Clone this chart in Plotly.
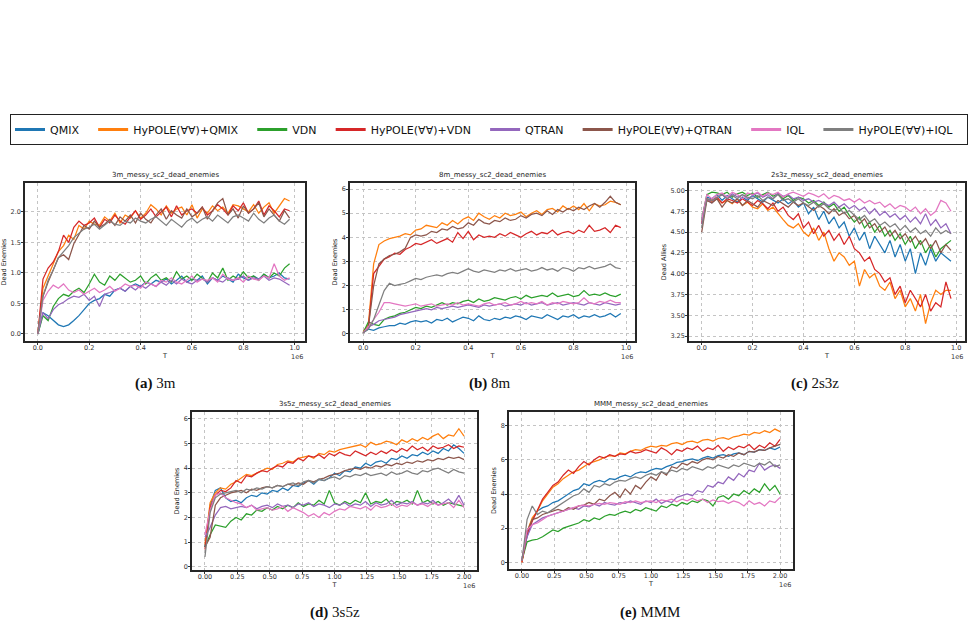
import plotly.graph_objects as go

W, H = 973, 627

NAMES = ["QMIX", "HyPOLE(∀∀)+QMIX", "VDN", "HyPOLE(∀∀)+VDN",
         "QTRAN", "HyPOLE(∀∀)+QTRAN", "IQL", "HyPOLE(∀∀)+IQL"]
COLORS = ["#1f77b4", "#ff7f0e", "#2ca02c", "#d62728",
          "#9467bd", "#8c564b", "#e377c2", "#7f7f7f"]

# training steps (in units of 1e6)
T_1M = [round(0.02 * i, 2) for i in range(50)]
T_2M = [round(0.04 * i, 2) for i in range(51)]

# ---------------- (a) 3m ----------------
m3_qmix = [0, 0.35, 0.30, 0.22, 0.15, 0.12, 0.15, 0.22, 0.30, 0.40, 0.50, 0.55, 0.58, 0.65, 0.62, 0.72, 0.75, 0.70, 0.78, 0.82,
           0.78, 0.85, 0.82, 0.88, 0.85, 0.90, 0.82, 0.88, 0.95, 0.85, 0.90, 0.88, 0.95, 0.82, 0.92, 0.88, 0.95, 0.90, 0.85, 0.98,
           0.92, 0.88, 0.95, 0.90, 0.98, 0.92, 0.95, 1.00, 0.92, 0.90]
m3_hy_qmix = [0.0, 0.75, 0.95, 1.15, 1.35, 1.45, 1.62, 1.55, 1.78, 1.72, 1.85, 1.80, 1.78, 1.92, 1.85, 1.98, 1.82, 1.95, 1.90, 2.02,
              1.90, 1.98, 2.12, 2.05, 1.95, 2.10, 1.98, 2.05, 2.08, 1.95, 2.12, 1.90, 2.05, 1.98, 2.10, 2.02, 2.08, 1.98, 2.12, 2.10,
              2.05, 2.00, 2.12, 1.98, 2.08, 2.15, 1.98, 2.10, 2.22, 2.18]
m3_vdn = [0, 0.30, 0.22, 0.45, 0.58, 0.65, 0.62, 0.70, 0.75, 0.68, 0.82, 0.98, 0.85, 0.80, 0.95, 0.88, 0.98, 0.92, 0.85, 0.88,
          0.95, 0.82, 0.92, 0.98, 0.88, 0.92, 0.85, 1.02, 0.90, 0.95, 0.88, 0.98, 0.92, 0.85, 1.00, 0.92, 1.08, 0.88, 0.95, 0.90,
          1.02, 0.92, 0.95, 0.88, 0.98, 0.92, 1.00, 0.95, 1.08, 1.15]
m3_hy_vdn = [0, 0.90, 1.08, 1.18, 1.35, 1.62, 1.50, 1.75, 1.85, 1.78, 1.82, 1.90, 1.75, 1.88, 1.82, 1.95, 1.85, 1.80, 1.92, 2.02,
             1.88, 1.95, 2.05, 1.92, 2.00, 2.08, 1.92, 2.10, 1.95, 2.02, 2.05, 1.98, 2.08, 1.95, 2.02, 2.12, 2.05, 1.95, 2.10, 2.02,
             2.15, 1.98, 2.05, 2.18, 1.95, 2.10, 2.02, 1.92, 2.05, 2.02]
m3_qtran = [0, 0.35, 0.25, 0.40, 0.48, 0.52, 0.58, 0.62, 0.60, 0.65, 0.55, 0.62, 0.45, 0.65, 0.68, 0.72, 0.75, 0.70, 0.78, 0.72,
            0.80, 0.75, 0.82, 0.78, 0.85, 0.80, 0.88, 0.82, 0.90, 0.85, 0.82, 0.88, 0.90, 0.85, 0.92, 0.88, 0.85, 0.92, 0.88, 0.90,
            0.95, 0.88, 0.92, 0.90, 0.95, 0.88, 0.92, 0.90, 0.85, 0.80]
m3_hy_qtran = [0, 0.62, 0.85, 1.05, 1.25, 1.30, 1.22, 1.48, 1.62, 1.78, 1.72, 1.85, 1.75, 1.80, 1.88, 1.78, 1.92, 1.85, 1.95, 1.82,
               1.98, 1.88, 1.82, 1.95, 2.05, 1.88, 2.02, 1.95, 1.90, 2.05, 1.92, 1.98, 2.08, 1.88, 2.02, 2.15, 2.22, 1.95, 2.05, 1.90,
               2.10, 1.98, 2.05, 2.15, 1.92, 2.05, 1.95, 1.85, 2.02, 1.90]
m3_iql = [0, 0.55, 0.70, 0.80, 0.75, 0.82, 0.72, 0.68, 0.72, 0.65, 0.70, 0.75, 0.68, 0.72, 0.78, 0.70, 0.75, 0.82, 0.78, 0.80,
          0.75, 0.85, 0.82, 0.78, 0.88, 0.85, 0.92, 0.85, 0.82, 0.88, 0.95, 0.85, 0.90, 0.88, 0.92, 0.85, 0.98, 0.90, 0.88, 0.92,
          0.85, 0.95, 0.90, 0.88, 0.95, 0.92, 1.15, 0.95, 0.88, 0.92]
m3_hy_iql = [0, 0.62, 0.88, 1.05, 1.25, 1.35, 1.45, 1.58, 1.65, 1.72, 1.75, 1.80, 1.72, 1.78, 1.85, 1.80, 1.78, 1.85, 1.82, 1.90,
             1.85, 1.82, 1.88, 1.92, 1.85, 1.78, 1.88, 1.82, 1.75, 1.85, 1.90, 1.82, 1.88, 1.92, 1.85, 1.95, 1.88, 1.82, 1.92, 1.95,
             1.90, 1.85, 1.98, 1.88, 1.82, 1.90, 1.95, 1.85, 1.80, 1.88]

# ---------------- (b) 8m ----------------
m8_qmix = [0.05, 0.2, 0.15, 0.25, 0.3, 0.35, 0.35, 0.45, 0.4, 0.5, 0.55, 0.5, 0.55, 0.45, 0.6, 0.55, 0.65, 0.5, 0.6, 0.7,
           0.65, 0.55, 0.75, 0.6, 0.55, 0.65, 0.6, 0.7, 0.65, 0.75, 0.7, 0.6, 0.75, 0.7, 0.65, 0.8, 0.7, 0.6, 0.75, 0.7,
           0.8, 0.65, 0.75, 0.7, 0.8, 0.7, 0.75, 0.85, 0.7, 0.85]
m8_hy_qmix = [0.1, 0.4, 2.9, 3.7, 3.85, 3.95, 4.0, 4.05, 4.15, 4.1, 4.3, 4.35, 4.5, 4.45, 4.4, 4.6, 4.5, 4.7, 4.55, 4.75,
              4.85, 4.7, 5.0, 4.85, 4.75, 4.9, 4.8, 5.0, 4.9, 4.95, 5.05, 4.85, 5.0, 5.1, 4.95, 5.15, 5.2, 5.05, 5.3, 5.15,
              5.3, 5.15, 5.4, 5.1, 5.4, 5.3, 5.35, 5.5, 5.45, 5.35]
m8_vdn = [0.05, 0.5, 0.4, 0.35, 0.6, 0.7, 0.75, 0.85, 0.9, 1.0, 1.1, 1.05, 1.15, 1.1, 1.2, 1.3, 1.2, 1.3, 1.25, 1.35,
          1.4, 1.3, 1.45, 1.35, 1.4, 1.5, 1.45, 1.4, 1.5, 1.55, 1.45, 1.6, 1.5, 1.55, 1.6, 1.55, 1.7, 1.55, 1.6, 1.65,
          1.55, 1.6, 1.8, 1.6, 1.65, 1.6, 1.7, 1.6, 1.55, 1.65]
m8_hy_vdn = [0.05, 0.3, 2.5, 2.8, 3.1, 3.2, 3.35, 3.3, 3.5, 3.6, 3.75, 3.7, 3.8, 3.9, 3.75, 3.85, 3.95, 3.8, 4.2, 3.95,
             4.25, 3.9, 4.1, 4.0, 4.05, 4.0, 4.15, 4.05, 4.2, 4.1, 4.0, 4.15, 4.25, 4.1, 4.2, 4.15, 4.3, 4.1, 4.2, 4.25,
             4.15, 4.3, 4.2, 4.5, 4.25, 4.3, 4.4, 4.2, 4.5, 4.4]
m8_qtran = [0.05, 0.3, 0.4, 0.55, 0.6, 0.65, 0.7, 0.8, 0.85, 0.9, 0.95, 1.0, 1.05, 1.0, 1.1, 1.05, 1.1, 1.15, 1.1, 1.15,
            1.2, 1.15, 1.1, 1.2, 1.15, 1.2, 1.25, 1.15, 1.2, 1.25, 1.2, 1.3, 1.2, 1.25, 1.3, 1.2, 1.25, 1.3, 1.2, 1.25,
            1.3, 1.25, 1.2, 1.3, 1.25, 1.2, 1.3, 1.25, 1.2, 1.25]
m8_hy_qtran = [0.05, 0.3, 2.0, 2.9, 3.1, 3.25, 3.3, 3.4, 3.55, 4.0, 4.1, 4.05, 4.1, 4.25, 4.2, 4.35, 4.3, 4.45, 4.35, 4.4,
               4.6, 4.5, 4.75, 4.6, 4.55, 4.7, 4.65, 4.8, 4.7, 4.75, 4.9, 4.8, 4.95, 5.0, 4.9, 5.1, 4.95, 5.15, 5.05, 5.2,
               5.1, 5.25, 5.15, 5.3, 5.4, 5.25, 5.45, 5.7, 5.45, 5.35]
m8_iql = [0.05, 0.3, 0.6, 0.9, 1.3, 1.3, 1.25, 1.2, 1.15, 1.2, 1.25, 1.15, 1.2, 1.25, 1.15, 1.2, 1.25, 1.2, 1.3, 1.2,
          1.25, 1.2, 1.15, 1.25, 1.3, 1.2, 1.25, 1.3, 1.2, 1.25, 1.35, 1.25, 1.3, 1.25, 1.35, 1.2, 1.3, 1.25, 1.35, 1.3,
          1.25, 1.3, 1.5, 1.3, 1.25, 1.35, 1.3, 1.4, 1.3, 1.3]
m8_hy_iql = [0.05, 0.2, 0.6, 1.2, 1.8, 2.1, 2.0, 2.05, 2.1, 2.2, 2.3, 2.25, 2.35, 2.4, 2.45, 2.4, 2.5, 2.55, 2.5, 2.6,
             2.7, 2.6, 2.55, 2.65, 2.6, 2.55, 2.65, 2.6, 2.7, 2.6, 2.65, 2.7, 2.6, 2.65, 2.75, 2.65, 2.7, 2.6, 2.75, 2.7,
             2.6, 2.75, 2.7, 2.8, 2.7, 2.75, 2.8, 2.9, 2.75, 2.7]

# ---------------- (c) 2s3z (dead allies) ----------------
s23_qmix = [4.65, 4.92, 4.9, 4.95, 4.88, 4.94, 4.9, 4.86, 4.92, 4.88, 4.94, 4.9, 4.86, 4.92, 4.88, 4.85, 4.9, 4.84, 4.88, 4.8,
            4.85, 4.72, 4.8, 4.65, 4.75, 4.6, 4.68, 4.55, 4.62, 4.45, 4.55, 4.4, 4.5, 4.3, 4.45, 4.35, 4.25, 4.4, 4.2, 4.35,
            4.15, 4.3, 4.0, 4.25, 4.1, 4.3, 4.15, 4.25, 4.2, 4.15]
s23_hy_qmix = [4.6, 4.9, 4.86, 4.9, 4.85, 4.88, 4.84, 4.9, 4.82, 4.86, 4.8, 4.78, 4.84, 4.76, 4.8, 4.72, 4.65, 4.58, 4.55, 4.6,
               4.5, 4.45, 4.55, 4.4, 4.5, 4.3, 4.15, 4.25, 4.2, 4.1, 4.15, 3.85, 4.05, 3.95, 4.0, 3.85, 3.8, 3.9, 3.7, 3.8,
               3.6, 3.7, 3.55, 3.75, 3.4, 3.65, 3.8, 3.75, 3.8, 3.8]
s23_vdn = [4.65, 4.95, 4.98, 4.97, 4.95, 4.98, 4.92, 4.96, 4.98, 4.94, 4.97, 4.92, 4.95, 4.98, 4.93, 4.96, 4.9, 4.94, 4.88, 4.92,
           4.9, 4.85, 4.88, 4.82, 4.86, 4.8, 4.84, 4.75, 4.8, 4.7, 4.62, 4.68, 4.55, 4.62, 4.5, 4.58, 4.45, 4.52, 4.4, 4.48,
           4.35, 4.45, 4.3, 4.4, 4.25, 4.35, 4.2, 4.3, 4.35, 4.4]
s23_hy_vdn = [4.6, 4.9, 4.88, 4.92, 4.85, 4.9, 4.88, 4.85, 4.9, 4.86, 4.82, 4.88, 4.84, 4.78, 4.85, 4.75, 4.8, 4.7, 4.65, 4.72,
              4.55, 4.62, 4.48, 4.58, 4.45, 4.52, 4.4, 4.48, 4.35, 4.45, 4.3, 4.25, 4.15, 4.2, 4.05, 4.0, 3.9, 3.95, 3.75, 3.85,
              3.65, 3.8, 3.7, 3.6, 3.75, 3.55, 3.65, 3.6, 3.9, 3.7]
s23_qtran = [4.6, 4.9, 4.85, 4.92, 4.95, 4.9, 4.96, 4.92, 4.95, 4.9, 4.94, 4.97, 4.92, 4.95, 4.9, 4.97, 4.93, 4.95, 4.9, 4.92,
             4.88, 4.9, 4.86, 4.88, 4.85, 4.82, 4.86, 4.8, 4.84, 4.78, 4.82, 4.76, 4.8, 4.72, 4.78, 4.7, 4.75, 4.68, 4.72, 4.65,
             4.7, 4.62, 4.68, 4.6, 4.72, 4.58, 4.65, 4.55, 4.6, 4.48]
s23_hy_qtran = [4.5, 4.88, 4.85, 4.9, 4.8, 4.88, 4.85, 4.9, 4.82, 4.88, 4.84, 4.8, 4.88, 4.85, 4.82, 4.88, 4.84, 4.8, 4.86, 4.82,
                4.85, 4.8, 4.76, 4.82, 4.78, 4.72, 4.78, 4.7, 4.74, 4.66, 4.7, 4.6, 4.66, 4.55, 4.6, 4.5, 4.56, 4.45, 4.52, 4.42,
                4.48, 4.38, 4.45, 4.35, 4.42, 4.3, 4.4, 4.25, 4.35, 4.28]
s23_iql = [4.65, 4.95, 4.9, 4.95, 4.97, 4.92, 4.98, 4.95, 4.9, 4.97, 4.95, 4.98, 4.93, 4.97, 4.95, 4.98, 4.92, 4.96, 4.98, 4.95,
           4.93, 4.97, 4.95, 4.92, 4.96, 4.9, 4.94, 4.92, 4.88, 4.9, 4.86, 4.9, 4.85, 4.88, 4.84, 4.86, 4.8, 4.84, 4.78, 4.82,
           4.8, 4.75, 4.8, 4.72, 4.78, 4.7, 4.75, 4.88, 4.85, 4.75]
s23_hy_iql = [4.55, 4.9, 4.88, 4.92, 4.95, 4.9, 4.94, 4.9, 4.95, 4.92, 4.9, 4.94, 4.88, 4.92, 4.9, 4.95, 4.88, 4.9, 4.86, 4.9,
              4.85, 4.82, 4.86, 4.8, 4.84, 4.78, 4.75, 4.8, 4.72, 4.76, 4.7, 4.65, 4.7, 4.62, 4.66, 4.58, 4.62, 4.56, 4.6, 4.52,
              4.58, 4.5, 4.55, 4.48, 4.52, 4.45, 4.55, 4.48, 4.52, 4.48]

# ---------------- (d) 3s5z ----------------
s35_qmix = [0.8, 2.5, 3.1, 3.2, 2.8, 2.65, 2.7, 2.6, 2.8, 2.9, 2.85, 3.0, 2.95, 3.1, 3.05, 3.2, 3.1, 3.3, 3.25, 3.4,
            3.5, 3.35, 3.55, 3.5, 3.6, 3.8, 3.7, 3.9, 3.85, 4.05, 4.0, 4.2, 4.1, 4.25, 4.3, 4.2, 4.4, 4.35, 4.5, 4.4,
            4.55, 4.5, 4.65, 4.55, 4.7, 4.6, 4.8, 4.7, 4.95, 4.8, 4.6]
s35_hy_qmix = [0.9, 2.6, 3.0, 3.2, 3.15, 3.35, 3.45, 3.6, 3.75, 3.7, 3.8, 3.9, 4.0, 3.95, 4.15, 4.2, 4.3, 4.25, 4.4, 4.45,
               4.5, 4.4, 4.6, 4.55, 4.7, 4.65, 4.75, 4.8, 4.85, 4.9, 4.95, 4.85, 5.05, 4.95, 5.0, 5.1, 5.05, 4.95, 5.15, 5.05,
               5.2, 5.1, 5.25, 5.15, 5.3, 5.4, 5.2, 5.35, 5.3, 5.6, 5.3]
s35_vdn = [0.8, 1.3, 1.7, 1.65, 1.6, 1.85, 2.0, 1.9, 2.15, 2.1, 2.3, 2.25, 2.4, 2.3, 2.45, 2.35, 2.5, 2.4, 2.6, 2.45,
           2.55, 2.5, 2.7, 2.55, 3.1, 2.6, 2.5, 2.65, 2.55, 2.7, 2.6, 3.0, 2.55, 2.65, 2.6, 2.75, 2.5, 2.65, 2.6, 2.7,
           2.55, 3.1, 2.6, 2.7, 2.55, 2.65, 2.5, 2.6, 2.55, 2.5, 2.45]
s35_hy_vdn = [0.7, 2.4, 2.9, 3.1, 3.05, 3.2, 3.5, 3.4, 3.7, 3.65, 3.8, 3.9, 3.85, 4.0, 4.1, 4.05, 4.25, 4.2, 4.4, 4.3,
              4.5, 4.45, 4.55, 4.4, 4.6, 4.5, 4.65, 4.55, 4.5, 4.7, 4.6, 4.5, 4.65, 4.55, 4.7, 4.6, 4.75, 4.65, 4.8, 4.7,
              4.9, 4.75, 4.85, 4.7, 4.9, 4.8, 4.85, 4.95, 4.8, 4.9, 4.85]
s35_qtran = [1.2, 1.6, 2.1, 2.4, 2.45, 2.35, 2.4, 2.45, 2.4, 2.5, 2.35, 2.45, 2.5, 2.4, 2.55, 2.45, 2.5, 2.4, 2.55, 2.5,
             2.6, 2.45, 2.55, 2.5, 2.4, 2.55, 2.5, 2.6, 2.45, 2.55, 2.5, 2.65, 2.45, 2.6, 2.5, 2.55, 2.7, 2.5, 2.6, 2.55,
             2.65, 2.5, 2.6, 2.55, 2.7, 2.5, 2.6, 2.75, 2.55, 2.9, 2.5]
s35_hy_qtran = [0.8, 1.2, 2.5, 2.8, 2.9, 3.0, 3.05, 3.1, 3.0, 3.15, 3.1, 3.2, 3.25, 3.2, 3.3, 3.25, 3.35, 3.3, 3.4, 3.35,
                3.5, 3.45, 3.55, 3.6, 3.7, 3.75, 3.8, 3.9, 3.95, 4.0, 3.95, 4.05, 4.0, 4.1, 4.05, 4.15, 4.1, 4.2, 4.15, 4.25,
                4.2, 4.3, 4.25, 4.35, 4.3, 4.4, 4.35, 4.45, 4.4, 4.45, 4.35]
s35_iql = [1.3, 2.3, 2.9, 3.0, 2.8, 2.7, 2.6, 2.55, 2.4, 2.5, 2.3, 2.35, 2.4, 2.3, 2.35, 2.45, 2.25, 2.4, 2.3, 2.2,
           2.05, 2.15, 2.0, 2.2, 2.1, 2.25, 2.35, 2.3, 2.45, 2.4, 2.35, 2.45, 2.3, 2.5, 2.4, 2.45, 2.55, 2.4, 2.5, 2.45,
           2.6, 2.5, 2.55, 2.45, 2.6, 2.5, 2.55, 2.6, 2.4, 2.7, 2.4]
s35_hy_iql = [0.4, 2.2, 2.8, 2.95, 3.0, 3.05, 3.1, 3.0, 3.15, 3.1, 3.2, 3.15, 3.25, 3.2, 3.3, 3.25, 3.35, 3.4, 3.3, 3.45,
              3.5, 3.4, 3.55, 3.5, 3.6, 3.65, 3.55, 3.7, 3.65, 3.75, 3.7, 3.8, 3.7, 3.75, 3.8, 3.7, 3.85, 3.75, 3.8, 3.9,
              3.8, 3.75, 3.9, 3.85, 3.95, 4.0, 3.9, 3.8, 3.95, 3.85, 3.8]

# ---------------- (e) MMM ----------------
mmm_qmix = [0.1, 1.5, 2.5, 3.0, 3.2, 3.3, 3.5, 3.6, 3.8, 4.0, 4.2, 4.3, 4.6, 4.5, 4.7, 4.8, 4.7, 4.9, 4.85, 5.0,
            5.1, 5.0, 5.2, 5.3, 5.25, 5.4, 5.5, 5.45, 5.6, 5.7, 5.85, 5.9, 6.0, 6.05, 5.95, 6.1, 6.2, 6.1, 6.25, 6.3,
            6.2, 6.35, 6.4, 6.3, 6.5, 6.45, 6.6, 6.55, 6.7, 6.6, 6.75]
mmm_hy_qmix = [0.0, 1.8, 2.6, 3.0, 3.6, 4.0, 4.4, 4.6, 4.9, 5.1, 5.3, 5.4, 5.6, 5.8, 5.9, 6.0, 6.15, 6.25, 6.2, 6.4,
               6.35, 6.5, 6.6, 6.55, 6.7, 6.8, 6.75, 6.85, 6.8, 6.95, 7.0, 6.9, 7.05, 7.1, 7.0, 7.15, 7.2, 7.1, 7.25, 7.3,
               7.2, 7.35, 7.4, 7.5, 7.45, 7.6, 7.55, 7.7, 7.6, 7.8, 7.65]
mmm_vdn = [0.1, 1.2, 1.3, 1.35, 1.5, 1.7, 1.9, 1.8, 2.0, 2.1, 2.2, 2.3, 2.5, 2.4, 2.6, 2.5, 2.7, 2.8, 2.75, 2.9,
           3.0, 2.9, 3.1, 3.0, 3.2, 3.1, 3.0, 3.3, 3.2, 3.4, 3.3, 3.5, 3.4, 3.6, 3.5, 3.7, 3.6, 3.3, 3.8, 3.9,
           3.7, 4.0, 3.9, 4.2, 4.0, 4.3, 4.1, 4.6, 4.2, 4.5, 4.0]
mmm_hy_vdn = [0.0, 1.6, 2.4, 3.1, 3.7, 4.1, 4.5, 4.7, 5.1, 5.4, 5.2, 5.6, 5.9, 5.7, 6.0, 6.2, 6.1, 6.3, 6.2, 6.35,
              6.3, 6.5, 6.4, 6.45, 6.6, 6.5, 6.4, 6.7, 6.55, 6.3, 6.6, 6.5, 6.7, 6.6, 6.8, 6.5, 6.7, 6.6, 6.85, 6.5,
              6.75, 6.6, 6.8, 6.7, 6.9, 6.6, 6.85, 6.7, 7.0, 6.8, 7.2]
mmm_qtran = [0.2, 1.5, 2.2, 2.4, 2.6, 2.7, 2.8, 2.9, 3.0, 3.1, 3.2, 3.1, 3.3, 3.25, 3.4, 3.3, 3.5, 3.4, 3.35, 3.5,
             3.45, 3.6, 3.5, 3.4, 3.6, 3.5, 3.7, 3.45, 3.6, 3.5, 3.8, 3.9, 4.0, 3.9, 4.2, 4.1, 4.5, 4.4, 4.7, 4.6,
             5.0, 4.8, 5.2, 5.0, 5.4, 5.3, 5.8, 5.4, 5.6, 5.7, 5.5]
mmm_hy_qtran = [0.1, 1.8, 2.5, 2.6, 2.8, 2.9, 3.0, 3.1, 3.0, 3.2, 3.1, 3.3, 3.35, 3.5, 3.4, 3.7, 3.6, 3.9, 4.1, 3.8,
                4.3, 4.0, 4.5, 4.3, 4.7, 5.0, 4.8, 5.3, 5.1, 5.6, 5.5, 5.8, 5.7, 5.9, 5.8, 6.0, 6.1, 6.0, 6.2, 6.1,
                6.3, 6.2, 6.4, 6.3, 6.5, 6.45, 6.6, 6.55, 6.7, 6.8, 6.9]
mmm_iql = [0.1, 1.9, 2.2, 2.3, 2.5, 2.7, 2.8, 2.9, 3.0, 3.1, 3.2, 3.3, 3.35, 3.3, 3.4, 3.45, 3.4, 3.5, 3.45, 3.4,
           3.55, 3.5, 3.6, 3.5, 3.55, 3.6, 3.5, 3.65, 3.6, 3.7, 3.55, 3.7, 3.6, 3.75, 3.6, 3.7, 3.5, 3.65, 3.55, 3.6,
           3.45, 3.6, 3.5, 3.3, 3.6, 3.4, 3.5, 3.3, 3.6, 3.5, 3.8]
mmm_hy_iql = [0.1, 2.5, 3.3, 2.8, 3.0, 2.9, 3.1, 3.3, 3.5, 3.7, 3.9, 4.0, 4.3, 4.1, 4.5, 4.4, 4.6, 4.5, 4.7, 4.8,
              4.75, 4.9, 5.0, 4.9, 5.1, 5.2, 5.1, 5.3, 5.2, 5.4, 5.3, 5.5, 5.4, 5.6, 5.5, 5.4, 5.6, 5.5, 5.7, 5.6,
              5.5, 5.7, 5.6, 5.8, 5.7, 5.6, 5.8, 5.7, 5.9, 5.6, 5.7]

PANELS = [
    dict(title="3m_messy_sc2_dead_enemies", ylabel="Dead Enemies", caption="<b>(a)</b> 3m",
         x=T_1M, series=[m3_qmix, m3_hy_qmix, m3_vdn, m3_hy_vdn, m3_qtran, m3_hy_qtran, m3_iql, m3_hy_iql],
         box=(25, 305, 183, 341), xr=[-0.05, 1.04], yr=[-0.115, 2.475],
         xt=[0, 0.2, 0.4, 0.6, 0.8, 1.0], xf=".1f", yt=[0, 0.5, 1.0, 1.5, 2.0], yf=".1f", capx=155, capy=383),
    dict(title="8m_messy_sc2_dead_enemies", ylabel="Dead Enemies", caption="<b>(b)</b> 8m",
         x=T_1M, series=[m8_qmix, m8_hy_qmix, m8_vdn, m8_hy_vdn, m8_qtran, m8_hy_qtran, m8_iql, m8_hy_iql],
         box=(350, 635, 183, 341), xr=[-0.05, 1.034], yr=[-0.29, 6.25],
         xt=[0, 0.2, 0.4, 0.6, 0.8, 1.0], xf=".1f", yt=[0, 1, 2, 3, 4, 5, 6], yf="d", capx=490, capy=383),
    dict(title="2s3z_messy_sc2_dead_enemies", ylabel="Dead Allies", caption="<b>(c)</b> 2s3z",
         x=T_1M, series=[s23_qmix, s23_hy_qmix, s23_vdn, s23_hy_vdn, s23_qtran, s23_hy_qtran, s23_iql, s23_hy_iql],
         box=(689, 965, 183, 341), xr=[-0.05, 1.035], yr=[3.19, 5.09],
         xt=[0, 0.2, 0.4, 0.6, 0.8, 1.0], xf=".1f", yt=[3.25, 3.5, 3.75, 4.0, 4.25, 4.5, 4.75, 5.0], yf=".2f",
         capx=815, capy=383),
    dict(title="3s5z_messy_sc2_dead_enemies", ylabel="Dead Enemies", caption="<b>(d)</b> 3s5z",
         x=T_2M, series=[s35_qmix, s35_hy_qmix, s35_vdn, s35_hy_vdn, s35_qtran, s35_hy_qtran, s35_iql, s35_hy_iql],
         box=(192, 477, 412, 570), xr=[-0.1, 2.1], yr=[-0.13, 6.28],
         xt=[0, 0.25, 0.5, 0.75, 1.0, 1.25, 1.5, 1.75, 2.0], xf=".2f", yt=[0, 1, 2, 3, 4, 5, 6], yf="d",
         capx=335, capy=612),
    dict(title="MMM_messy_sc2_dead_enemies", ylabel="Dead Enemies", caption="<b>(e)</b> MMM",
         x=T_2M, series=[mmm_qmix, mmm_hy_qmix, mmm_vdn, mmm_hy_vdn, mmm_qtran, mmm_hy_qtran, mmm_iql, mmm_hy_iql],
         box=(509, 793, 412, 569), xr=[-0.1, 2.1], yr=[-0.39, 8.8],
         xt=[0, 0.25, 0.5, 0.75, 1.0, 1.25, 1.5, 1.75, 2.0], xf=".2f", yt=[0, 2, 4, 6, 8], yf="d",
         capx=650, capy=612),
]

fig = go.Figure()
annotations = []
TICKFONT = dict(family="DejaVu Sans", size=6.5, color="#333333")
LABFONT = dict(family="DejaVu Sans", size=6.5, color="#222222")

for i, p in enumerate(PANELS):
    k = "" if i == 0 else str(i + 1)
    x0, x1, y0, y1 = p["box"]
    for j, ys in enumerate(p["series"]):
        fig.add_trace(go.Scatter(
            x=p["x"], y=ys, mode="lines", name=NAMES[j],
            line=dict(color=COLORS[j], width=1.25),
            legendgroup=NAMES[j], showlegend=False,
            xaxis="x" + k, yaxis="y" + k))
    axcommon = dict(showline=True, mirror=True, linecolor="#262626", linewidth=1.6,
                    showgrid=True, gridcolor="#c4c4c4", gridwidth=0.7, griddash="dot",
                    zeroline=False, ticks="outside", ticklen=2, tickwidth=0.8, tickcolor="#333333",
                    tickfont=TICKFONT)
    fig.update_layout(**{
        "xaxis" + k: dict(axcommon, domain=[x0 / W, x1 / W], anchor="y" + k, range=p["xr"],
                          tickvals=p["xt"], tickformat=p["xf"], ticklabelstandoff=-3,
                          title=dict(text="T", font=LABFONT, standoff=3)),
        "yaxis" + k: dict(axcommon, domain=[1 - y1 / H, 1 - y0 / H], anchor="x" + k, range=p["yr"],
                          tickvals=p["yt"], tickformat=p["yf"], ticklabelstandoff=-1,
                          title=dict(text=p["ylabel"], font=LABFONT, standoff=3)),
    })
    annotations.append(dict(text=p["title"], x=(x0 + x1) / 2 / W, y=1 - (y0 - 2) / H, xref="paper", yref="paper",
                            xanchor="center", yanchor="bottom", showarrow=False,
                            font=dict(family="DejaVu Sans", size=7, color="#222")))
    annotations.append(dict(text="1e6", x=x1 / W, y=1 - (y1 + 9.5) / H, xref="paper", yref="paper",
                            xanchor="right", yanchor="top", showarrow=False,
                            font=dict(family="DejaVu Sans", size=6.5, color="#333")))
    annotations.append(dict(text=p["caption"], x=p["capx"] / W, y=1 - p["capy"] / H, xref="paper", yref="paper",
                            xanchor="center", yanchor="middle", showarrow=False,
                            font=dict(family="Liberation Serif", size=15, color="#111")))

# legend entries (thicker line samples, as in the reference legend)
PAD = "\u00a0\u00a0\u2009"
for j, nm in enumerate(NAMES):
    fig.add_trace(go.Scatter(x=[None], y=[None], mode="lines", name=nm + PAD,
                             line=dict(color=COLORS[j], width=3), legendgroup=nm, showlegend=True))

fig.update_layout(
    width=W, height=H, margin=dict(l=0, r=0, t=0, b=0),
    paper_bgcolor="white", plot_bgcolor="white",
    annotations=annotations,
    legend=dict(orientation="h", x=10 / W, y=1 - 114 / H, xanchor="left", yanchor="top",
                bordercolor="#222222", borderwidth=1, bgcolor="white",
                font=dict(family="DejaVu Sans", size=11, color="#111"),
                itemwidth=30, tracegroupgap=0),
)

fig.write_html("out.html")
